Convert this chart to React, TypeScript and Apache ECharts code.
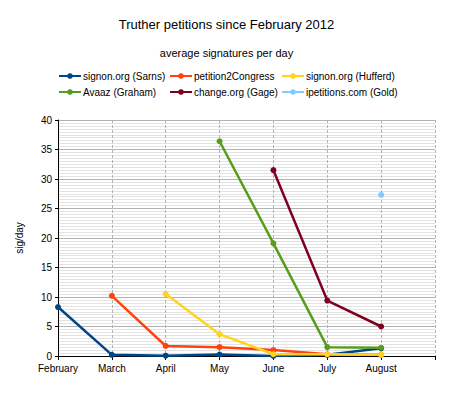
import React, { useEffect, useRef } from "react";
import * as echarts from "echarts";

const months = ["February", "March", "April", "May", "June", "July", "August", ""];
const sarns = [8.3, 0.2, 0.05, 0.25, 0.0, 0.2, 1.3, null];
const petition2Congress = [null, 10.2, 1.7, 1.5, 1.0, 0.3, 0.2, null];
const hufferd = [null, null, 10.5, 3.7, 0.3, 0.3, 0.2, null];
const avaaz = [null, null, null, 36.4, 19.1, 1.5, 1.4, null];
const gage = [null, null, null, null, 31.5, 9.4, 5.0, null];
const gold = [null, null, null, null, null, null, 27.3, null];

const names = [
  "signon.org (Sarns)",
  "petition2Congress",
  "signon.org (Hufferd)",
  "Avaaz (Graham)",
  "change.org (Gage)",
  "ipetitions.com (Gold)",
];
const colors = ["#004586", "#ff420e", "#ffd320", "#579d1c", "#7e0021", "#83caff"];
const values = [sarns, petition2Congress, hufferd, avaaz, gage, gold];

const FONT = "Liberation Sans, Arial, sans-serif";

export default function App() {
  const ref = useRef<HTMLDivElement>(null);
  useEffect(() => {
    if (!ref.current) return;
    const chart = echarts.init(ref.current, null, { renderer: "svg" });
    const legendBase = {
      orient: "vertical",
      top: 71,
      itemWidth: 22,
      itemHeight: 7,
      itemGap: 6,
      padding: 0,
      textStyle: { fontFamily: FONT, fontSize: 10, color: "#000", padding: [0, 0, 0, -3] },
    };
    chart.setOption({
      animation: false,
      textStyle: { fontFamily: FONT },
      title: [
        {
          text: "Truther petitions since February 2012",
          left: "center",
          top: 13,
          textStyle: { fontFamily: FONT, fontSize: 13, fontWeight: "normal", color: "#000" },
        },
        {
          text: "average signatures per day",
          left: "center",
          top: 42,
          textStyle: { fontFamily: FONT, fontSize: 11, fontWeight: "normal", color: "#000" },
        },
      ],
      legend: [
        { ...legendBase, left: 58, data: [names[0], names[3]] },
        { ...legendBase, left: 169, data: [names[1], names[4]] },
        { ...legendBase, left: 281, data: [names[2], names[5]] },
      ],
      grid: { left: 58, right: 18, top: 120, bottom: 41 },
      xAxis: {
        type: "category",
        data: months,
        boundaryGap: false,
        axisLine: { lineStyle: { color: "#000", width: 1 } },
        axisTick: { show: true, length: 4, lineStyle: { color: "#000" } },
        axisLabel: { color: "#000", fontSize: 10, fontFamily: FONT, margin: 7 },
        splitLine: { show: true, lineStyle: { color: "#b3b3b3", type: [3, 2] } },
      },
      yAxis: {
        type: "value",
        min: 0,
        max: 40,
        interval: 5,
        name: "sig/day",
        nameLocation: "middle",
        nameGap: 34,
        nameTextStyle: { color: "#000", fontSize: 10, fontFamily: FONT },
        axisLine: { show: true, lineStyle: { color: "#000", width: 1 } },
        axisTick: { show: true, length: 3, lineStyle: { color: "#000" } },
        axisLabel: { color: "#000", fontSize: 10, fontFamily: FONT, margin: 6 },
        splitLine: { show: true, lineStyle: { color: "#b3b3b3" } },
        minorTick: { show: false, splitNumber: 10 },
        minorSplitLine: { show: true, lineStyle: { color: "#e3e3e3" } },
      },
      series: values.map((v, i) => ({
        name: names[i],
        type: "line",
        data: v,
        connectNulls: false,
        symbol: "circle",
        symbolSize: 6,
        showSymbol: true,
        lineStyle: { width: 2.5, color: colors[i] },
        itemStyle: { color: colors[i] },
        z: 2 + i,
      })),
    });
    return () => chart.dispose();
  }, []);
  return (
    <div
      ref={ref}
      style={{ position: "fixed", left: 0, top: 0, width: 453, height: 397, background: "#fff" }}
    />
  );
}
